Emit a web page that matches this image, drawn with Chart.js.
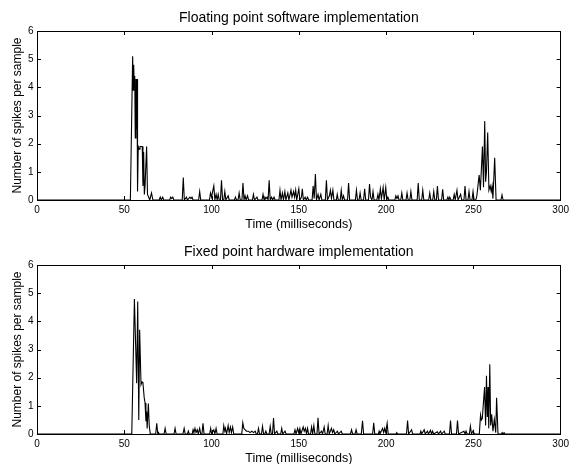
<!DOCTYPE html>
<html><head><meta charset="utf-8">
<script src="https://cdn.jsdelivr.net/npm/chart.js@4"></script>
<style>
html,body{margin:0;padding:0;background:#fff;overflow:hidden;}
#wrap{position:relative;width:573px;height:464px;overflow:hidden;}
.box{position:absolute;left:0;width:573px;height:232px;}
</style></head><body>
<div id="wrap">
<div class="box" style="top:0"><canvas id="c1"></canvas></div>
<div class="box" style="top:234px"><canvas id="c2"></canvas></div>
</div>
<script>
const xTicks = [0,50,100,150,200,250,300];
const yTicks = [0,1,2,3,4,5,6];
const titles = ['Floating point software implementation','Fixed point hardware implementation'];
const xTitle = 'Time (milliseconds)';
const yTitle = 'Number of spikes per sample';

// [time (ms), spikes per sample] — floating point software
const softSamples = [
[0,0],[53.5,0],[54.8,5.1],[55.1,3.9],[55.4,4.8],[55.7,4.0],[56.0,4.4],[56.3,2.2],[56.7,4.3],[57.0,2.5],[57.3,4.3],[57.6,0.3],
[58.0,1.9],[58.5,1.8],[59.0,1.9],[60.3,1.9],[60.7,0.5],[61.1,1.7],[61.5,0.2],[61.9,0.5],[62.8,1.9],[63.3,0.2],[64.0,0.1],[64.6,0],
[65.6,0.25],[66.4,0],[70,0],[70.6,0.1],[71.2,0],[72,0.1],[72.6,0],[76,0],[76.6,0.1],[77.2,0.05],[77.8,0.1],[78.4,0],
[83.2,0],[83.8,0.8],[84.4,0],[85.6,0.1],[86.2,0],[87.6,0.1],[88.2,0.05],[88.8,0.1],[89.4,0],[92.6,0],[93.2,0.3],[93.8,0],
[98.8,0],[99.4,0.25],[100,0.1],[100.6,0.3],[101.3,0.5],[101.9,0],[102.6,0.2],[103.2,0],[103.8,0.2],[104.4,0],[105.1,0],[105.7,0.7],[106.3,0],
[107,0],[107.6,0.3],[108.2,0],[109.5,0.15],[110.1,0],[113.1,0],[113.7,0.1],[114.3,0],[115.2,0],[115.8,0.25],[116.4,0],
[117.4,0],[118,0.6],[118.6,0],[119.2,0.15],[119.8,0],[120.6,0.15],[121.2,0],[123.4,0],[124,0.2],[124.6,0],[126,0.1],[126.6,0],
[128.9,0],[129.5,0.2],[130.1,0],[130.6,0.1],[131.2,0.05],[131.8,0.1],[132.4,0],[133,0.7],[133.6,0],[134.4,0.1],[135,0],[135.8,0.1],[136.4,0],
[138.6,0],[139.2,0.35],[139.8,0],[140.6,0.25],[141.2,0],[142,0.3],[142.6,0],[143.7,0.25],[144.3,0],[145.5,0.35],[146.1,0.1],[147,0.3],
[147.6,0.1],[148.2,0.35],[148.8,0],[150,0.4],[150.6,0],[151.5,0.1],[152,0.4],[152.6,0],[153.6,0.1],[154.2,0],[155,0.1],[155.6,0],
[157.6,0],[158.2,0.5],[158.8,0.05],[159.5,0.92],[160.1,0],[161,0.2],[161.6,0],[162.6,0.2],[163.2,0],[165.2,0],[165.8,0.7],[166.4,0],
[167.5,0.15],[168.1,0.35],[168.7,0.05],[169.5,0.35],[170.1,0],[171.5,0],[172,0.2],[172.6,0],[173.7,0],[174.3,0.35],[174.9,0],[175.6,0.15],[176.2,0],
[177.9,0],[178.5,0.6],[179.1,0],[182.4,0],[183,0.35],[183.6,0],[184.5,0],[185.1,0.25],[185.7,0],[187.1,0],[187.7,0.4],[188.3,0],
[189.9,0],[190.5,0.57],[191.1,0.1],[191.9,0],[192.5,0.3],[193.1,0],[194.7,0],[195.3,0.2],[195.9,0],[196.7,0.4],[197.3,0.05],[198.3,0.45],
[198.9,0],[199.8,0.45],[200.4,0],[201,0.1],[201.6,0],[205,0],[205.6,0.15],[206.2,0.05],[206.8,0.15],[207.4,0],[208.4,0],[209,0.25],[209.6,0],
[211.4,0],[212,0.25],[212.6,0],[213.6,0],[214.2,0.3],[214.8,0],[217.8,0],[218.4,0.6],[219,0],[220.4,0],[221,0.35],[221.6,0],
[224.4,0],[225,0.25],[225.6,0],[226.7,0],[227.3,0.3],[227.9,0],[228.8,0],[229.4,0.5],[230,0],[231.8,0],[232.4,0.38],[233,0],
[234.8,0],[235.4,0.1],[236,0],[236.5,0.1],[237.1,0],[238.4,0],[239,0.2],[239.6,0],[240.6,0.35],[241.2,0],[242.7,0.2],[243.3,0],
[244.6,0],[245.2,0.5],[245.8,0],[246.9,0],[247.5,0.3],[248.1,0],[249.2,0],[249.8,0.3],[250.4,0],[251.4,0],[252,0.15],[253.3,0.89],
[254,0.35],[255.2,1.9],[255.8,0.45],[256.5,2.8],[257,0.65],[257.5,1.0],[258.2,2.4],[258.9,0.35],[259.6,0.5],[260.2,0.3],[260.7,0.5],
[261.2,0.05],[262.2,1.5],[263,0],[265.8,0],[266.4,0.18],[267,0],[300,0]
];

// [time (ms), spikes per sample] — fixed point hardware
const hardSamples = [
[0,0],[54.3,0],[55.8,4.79],[57.1,1.8],[57.7,4.7],[58.3,0.5],[58.8,3.7],[59.6,1.75],[60.2,1.85],[60.7,1.8],[61.4,1.3],[61.9,1.1],
[62.4,0.45],[62.8,0.8],[63.1,0.2],[63.8,1.08],[64.3,0.3],[64.9,0],[68,0],[68.6,0.38],[69.2,0],[69.6,0.05],[70,0],
[72.8,0],[73.4,0.2],[74,0],[78.5,0],[79.1,0.2],[79.7,0],[83.6,0],[84.3,0.2],[84.9,0],[86.2,0],[86.7,0.1],[87.2,0],
[88.9,0],[89.4,0.15],[89.9,0.05],[90.5,0.2],[91.1,0.05],[91.8,0.15],[92.4,0],[93.2,0.2],[93.8,0],[94.5,0],[95.1,0.38],[95.7,0],
[98.9,0],[99.5,0.2],[100.1,0],[101.3,0.15],[101.9,0],[102.6,0.2],[103.2,0],[106.5,0],[107,0.3],[107.6,0.1],[108,0.2],[108.6,0],
[109.5,0.3],[110.1,0.05],[110.8,0.25],[111.4,0.05],[112.1,0.25],[112.7,0],[117.3,0],[117.9,0.4],[118.5,0.2],[119.3,0.15],[120,0.1],
[121.2,0.1],[122,0.05],[123.1,0.1],[124,0.05],[125,0.1],[125.6,0],[126.3,0],[126.9,0.2],[127.5,0],[128.6,0],[129.2,0.27],[129.8,0],
[130.5,0],[131.1,0.1],[131.7,0],[133,0],[133.6,0.27],[134.2,0],[134.9,0],[135.5,0.57],[136.1,0],[137.4,0.1],[138,0],[139.6,0],[140.2,0.2],[140.8,0],
[142.1,0.1],[142.7,0],[147.2,0],[147.8,0.15],[148.4,0],[149.3,0.2],[149.9,0.05],[150.6,0.2],[151.2,0],[152.5,0.25],[153.1,0.1],[153.8,0.2],[154.4,0],
[155,0.2],[155.6,0],[156.7,0],[157.3,0.25],[157.9,0],[158.6,0.3],[159.2,0],[160.4,0],[161,0.58],[161.6,0],[163,0.1],[163.6,0],[164.5,0.25],[165.1,0],
[166.2,0],[166.8,0.3],[167.4,0],[168.7,0.2],[169.3,0.05],[170,0.15],[170.6,0],[172.1,0.1],[172.7,0],[174.3,0.1],[174.9,0],
[179.6,0],[180.2,0.15],[180.8,0],[182.2,0],[182.8,0.15],[183.4,0],[185.8,0],[186.5,0.47],[187.1,0],[192.3,0],[192.9,0.4],[193.5,0],
[195.6,0],[196,0.1],[196.5,0],[198,0.2],[198.6,0.05],[199.2,0.2],[199.8,0.05],[200.6,0.38],[201.2,0],[205.6,0],[206.1,0.05],[206.6,0],
[211.7,0],[212.3,0.48],[212.9,0],[214.6,0.15],[215.2,0],[219.4,0],[219.9,0.1],[220.4,0],[221.8,0.15],[222.4,0],[223.7,0.1],[224.3,0],
[225.4,0.13],[226,0],[226.6,0.1],[227.2,0],[229.4,0.08],[230,0],[231.2,0.1],[231.8,0],[233.3,0.1],[233.9,0],[236.3,0],[236.9,0.48],[237.5,0],
[240.3,0],[240.9,0.48],[241.5,0],[244.6,0.1],[245.2,0],[245.8,0.1],[246.4,0],[247.7,0],[248.3,0.28],[248.9,0],[249.9,0.12],[250.5,0],
[253.4,0],[254.1,0.68],[254.6,0.5],[255.1,0.55],[256.4,1.67],[257,0.3],[257.5,2.07],[258,0.6],[258.4,1.67],[258.8,0.2],[259.4,2.48],
[259.9,0.3],[260.5,0.7],[261.2,0.1],[262,0.52],[262.8,0.05],[263.3,1.29],[264.1,0],[266,0],[266.5,0.05],[267,0],[267.6,0.05],[268.2,0],[300,0]
];

const FONT = "'Liberation Sans', Arial, Helvetica, sans-serif";
Chart.defaults.font.family = FONT;
Chart.defaults.color = '#000';

const framePlugin = {
  id: 'frame',
  afterDraw(chart) {
    const {ctx, chartArea: a, scales: {x, y}} = chart;
    ctx.save();
    ctx.strokeStyle = '#000';
    ctx.lineWidth = 1;
    ctx.strokeRect(Math.round(a.left) + 0.5, Math.round(a.top) + 0.5, Math.round(a.right - a.left) - 1, Math.round(a.bottom - a.top));
    ctx.beginPath();
    const L = 4;
    xTicks.forEach(v => {
      const px = Math.round(x.getPixelForValue(v)) + 0.5;
      if (v === xTicks[0] || v === xTicks[xTicks.length - 1]) return;
      ctx.moveTo(px, a.top); ctx.lineTo(px, a.top + L);
      ctx.moveTo(px, a.bottom); ctx.lineTo(px, a.bottom - L);
    });
    yTicks.forEach(v => {
      const py = Math.round(y.getPixelForValue(v)) + 0.5;
      if (v === yTicks[0] || v === yTicks[yTicks.length - 1]) return;
      ctx.moveTo(a.left, py); ctx.lineTo(a.left + L, py);
      ctx.moveTo(a.right, py); ctx.lineTo(a.right - L, py);
    });
    ctx.stroke();
    ctx.restore();
  }
};

function makeChart(id, title, samples) {
  return new Chart(document.getElementById(id), {
    type: 'line',
    data: { datasets: [{
      data: samples.map(([t, v]) => ({ x: t, y: v })),
      borderColor: '#000', borderWidth: 1.1, pointRadius: 0, tension: 0, fill: false
    }]},
    options: {
      responsive: true, maintainAspectRatio: false, animation: false,
      layout: { padding: { left: 0, right: 9, top: 0, bottom: 0 } },
      plugins: {
        legend: { display: false }, tooltip: { enabled: false },
        title: { display: true, text: title, color: '#000', fullSize: false,
          font: { family: FONT, size: 14, weight: 'normal' }, padding: { top: 10, bottom: 4.2 } }
      },
      scales: {
        x: {
          type: 'linear', min: 0, max: 300,
          afterBuildTicks: s => { s.ticks = xTicks.map(v => ({ value: v })); },
          grid: { display: false, drawTicks: false }, border: { display: false },
          ticks: { color: '#000', font: { family: FONT, size: 10 }, padding: 4, maxRotation: 0, autoSkip: false },
          title: { display: true, text: xTitle, color: '#000', font: { family: FONT, size: 12.5 }, padding: { top: 0, bottom: 0 } },
          afterFit: s => { s.height = 32; }
        },
        y: {
          type: 'linear', min: 0, max: 6,
          afterBuildTicks: s => { s.ticks = yTicks.map(v => ({ value: v })); },
          grid: { display: false, drawTicks: false }, border: { display: false },
          ticks: { color: '#000', font: { family: FONT, size: 10 }, padding: 3.5 },
          title: { display: true, text: yTitle, color: '#000', font: { family: FONT, size: 12 }, padding: { top: 10.8, bottom: 0 } },
          afterFit: s => { s.width = 37; }
        }
      }
    },
    plugins: [framePlugin]
  });
}

makeChart('c1', titles[0], softSamples);
makeChart('c2', titles[1], hardSamples);
</script>
</body></html>
